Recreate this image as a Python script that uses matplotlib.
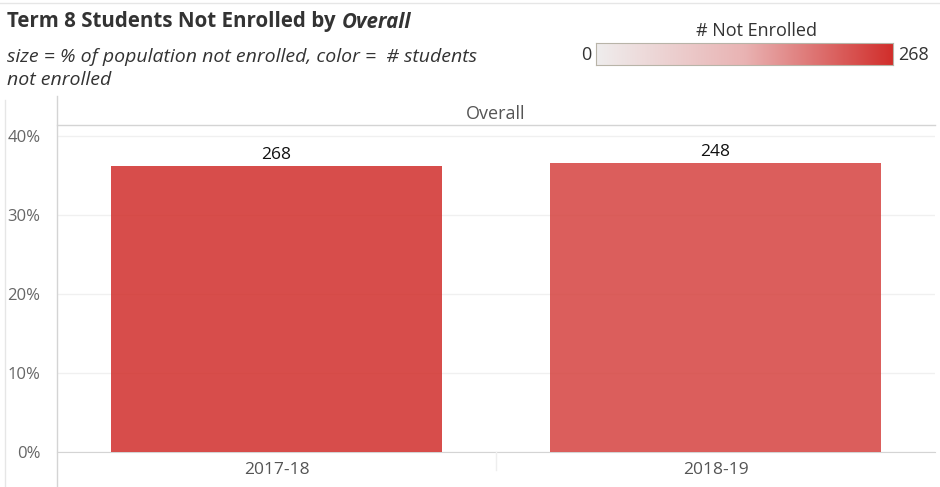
import matplotlib.pyplot as plt
import numpy as np
from matplotlib.colors import LinearSegmentedColormap, Normalize
from matplotlib.lines import Line2D

plt.rcParams['font.family'] = ['Open Sans', 'DejaVu Sans']

# data
years = ["2017-18", "2018-19"]
pct_not_enrolled = [36.2, 36.6]     # % of population not enrolled
n_not_enrolled = [268, 248]         # students not enrolled

W, H = 940, 487
fig = plt.figure(figsize=(W / 100, H / 100), dpi=100)

def fx(px):
    return px / W

def fy(py):
    return 1 - py / H

cmap = LinearSegmentedColormap.from_list("reds", ["#efeded", "#e9b3b3", "#d12e2b"])
norm = Normalize(0, max(n_not_enrolled))

# main plot area
left, right, top, bottom = 57, 935, 125, 452
ax = fig.add_axes([fx(left), fy(bottom), fx(right - left), (bottom - top) / H])
x = np.arange(len(years))
colors = [cmap(norm(v)) for v in n_not_enrolled]
bars = ax.bar(x, pct_not_enrolled, width=0.755, color=colors, alpha=0.85, zorder=3)
for xi, p, n in zip(x, pct_not_enrolled, n_not_enrolled):
    ax.text(xi, p + 0.4, str(n), ha="center", va="bottom", fontsize=12.5, color="#111111")

ax.set_xlim(-0.5, len(years) - 0.5)
ax.set_ylim(0, 41.4)
ax.set_yticks([0, 10, 20, 30, 40])
ax.set_yticklabels(["0%", "10%", "20%", "30%", "40%"])
ax.set_xticks(x)
ax.set_xticklabels(years)
ax.tick_params(axis="y", length=0, pad=12, labelsize=12, labelcolor="#666666")
ax.tick_params(axis="x", length=0, pad=7, labelsize=12.5, labelcolor="#555555")
ax.grid(axis="y", color="#f0f0f0", linewidth=1, zorder=0)
for s in ["top", "right", "left"]:
    ax.spines[s].set_visible(False)
ax.spines["bottom"].set_color("#d4d4d4")

# frame lines (header, axis lines, divider)
gray = "#d4d4d4"
fig.add_artist(Line2D([fx(left), fx(left)], [fy(96), 0], color=gray, lw=1))
fig.add_artist(Line2D([fx(5), fx(5)], [fy(100), 0], color="#e6e6e6", lw=1))
fig.add_artist(Line2D([fx(left), fx(right)], [fy(top), fy(top)], color=gray, lw=1))
fig.add_artist(Line2D([fx(496), fx(496)], [fy(452), fy(470)], color="#eeeeee", lw=1))
fig.add_artist(Line2D([0, 1], [fy(3), fy(3)], color="#e6e6e6", lw=1))
fig.text(fx(496), fy(114), "Overall", ha="center", va="center", fontsize=13, color="#555555")

# title
t1 = fig.text(fx(7), fy(22), "Term 8 Students Not Enrolled by", fontsize=14.8,
              fontweight="bold", color="#333333", va="center")
r = fig.canvas.get_renderer()
bb = t1.get_window_extent(r)
fig.text(fx(bb.x1 + 6), fy(22), "Overall", fontsize=14.8, fontweight="bold",
         style="italic", color="#333333", va="center")
fig.text(fx(7), fy(57), "size = % of population not enrolled, color =  # students",
         fontsize=14, style="italic", color="#333333", va="center")
fig.text(fx(7), fy(80), "not enrolled", fontsize=14, style="italic", color="#333333",
         va="center")

# colour legend
cax = fig.add_axes([fx(596), fy(65), fx(893 - 596), 22 / H])
grad = np.linspace(0, max(n_not_enrolled), 256).reshape(1, -1)
cax.imshow(grad, aspect="auto", cmap=cmap, norm=norm)
cax.set_xticks([])
cax.set_yticks([])
for s in cax.spines.values():
    s.set_color("#b8b4a8")
fig.text(fx(756), fy(31), "# Not Enrolled", ha="center", va="center", fontsize=13, color="#333333")
fig.text(fx(591), fy(55), "0", ha="right", va="center", fontsize=13, color="#333333")
fig.text(fx(898), fy(55), str(max(n_not_enrolled)), ha="left", va="center", fontsize=13,
         color="#333333")

fig.savefig("out.png", dpi=100)
